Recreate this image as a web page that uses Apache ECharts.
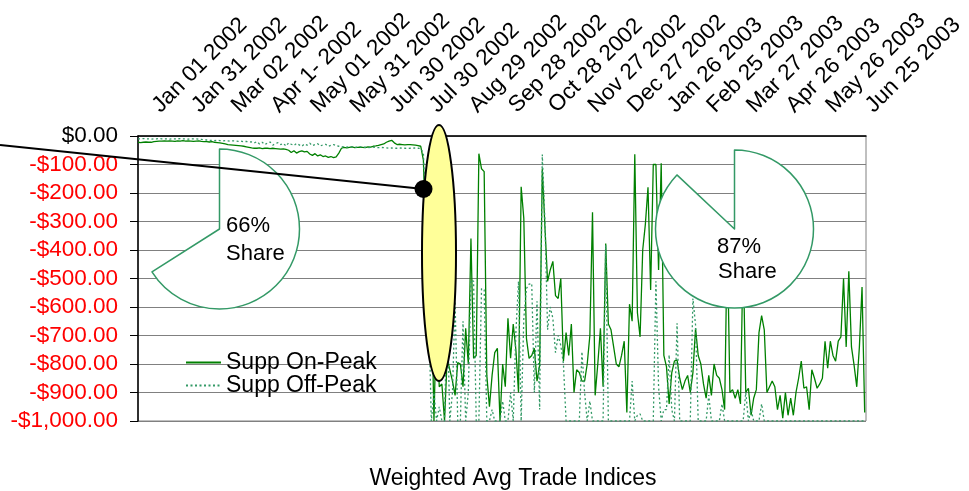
<!DOCTYPE html>
<html><head><meta charset="utf-8">
<script src="https://cdn.jsdelivr.net/npm/echarts@6/dist/echarts.min.js"></script>
<style>html,body{margin:0;padding:0;background:#fff}#c{width:969px;height:491px}</style>
</head><body><div id="c"></div>
<script>
// ---- data ----
const tickLabels = ['Jan 01 2002','Jan 31 2002','Mar 02 2002','Apr 1- 2002','May 01 2002','May 31 2002','Jun 30 2002','Jul 30 2002','Aug 29 2002','Sep 28 2002','Oct 28 2002','Nov 27 2002','Dec 27 2002','Jan 26 2003','Feb 25 2003','Mar 27 2003','Apr 26 2003','May 26 2003','Jun 25 2003'];
const DAY_STEP = 2;            // one value every 2 days, starting Jan 01 2002
const TICK_DAYS = 30;
const LAST_DAY = 551;
const seriesNames = ['Supp On-Peak', 'Supp Off-Peak'];

const onPeak = [
 -22,-23,-22,-21,-22,-22,-20,-19,-18,-18,
 -17,-18,-17,-18,-19,-17,-18,-16,-18,-17,
 -18,-19,-18,-17,-19,-20,-20,-21,-20,-22,
 -23,-24,-26,-28,-30,-31,-32,-33,-34,-35,
 -36,-38,-40,-42,-43,-43,-42,-44,-43,-43,
 -44,-43,-44,-45,-46,-45,-47,-50,-58,-52,
 -60,-55,-52,-56,-54,-63,-68,-62,-70,-66,
 -72,-70,-75,-72,-76,-73,-60,-43,-40,-42,
 -40,-38,-41,-40,-39,-40,-41,-38,-39,-36,
 -35,-33,-30,-28,-22,-18,-15,-24,-30,-29,
 -30,-31,-30,-30,-31,-32,-34,-36,-85,
 -400,-550,-500,-1000,-600,-880,-870,-1000,-780,-820,
 -860,-910,-795,-800,-880,-675,-800,-360,-780,-770,
 -62,-115,-125,-840,-950,-840,-760,-745,-1000,-800,
 -880,-640,-780,-660,-750,-900,-178,-289,-710,-780,
 -770,-745,-860,-804,-114,-320,-510,-470,-440,-560,
 -570,-500,-790,-690,-770,-660,-900,-820,-830,-860,
 -860,-800,-700,-268,-910,-800,-675,-880,-377,-660,
 -680,-740,-800,-810,-770,-720,-970,-590,-650,-64,
 -620,-705,-400,-310,-180,-540,-100,-100,-470,-96,
 -770,-810,-940,-830,-790,-785,-850,-890,-860,-840,
 -900,-830,-675,-770,-800,-870,-920,-840,-910,-800,
 -840,-850,-890,-960,-350,-900,-890,-920,-890,-940,
 -400,-900,-885,-980,-920,-890,-690,-630,-680,-900,
 -880,-860,-880,-960,-910,-990,-900,-980,-920,-980,
 -900,-850,-790,-885,-880,-960,-820,-850,-885,-870,
 -850,-720,-815,-720,-770,-790,-720,-705,-500,-740,
 -475,-740,-805,-880,-740,-530,-970
];

const offPeak = [
 -10,-10,-9,-10,-10,-11,-10,-10,-9,-10,
 -10,-10,-11,-10,-10,-10,-9,-10,-10,-11,
 -10,-10,-10,-11,-12,
 -13,-14,-15,-15,-16,-15,-16,-17,-16,-17,
 -18,-17,-18,-19,-18,-20,-19,-20,-21,
 -24,-20,-28,-22,-30,-25,-21,-32,-27,-23,
 -30,-26,-35,-24,-29,-33,-26,-31,-36,-28,
 -32,-25,-34,-30,-27,-35,-31,-29,-36,-33,
 -30,-34,
 -36,-38,-37,-39,-38,-38,-40,-39,-38,-40,
 -39,-41,-40,-39,-40,-41,-40,-41,
 -42,-43,-42,-43,-43,-42,-43,-43,-44,-43,
 -43,-42,-43,-44,-60,
 -300,-600,-1000,-900,-1000,-950,-1000,-1000,-590,-1000,
 -900,-580,-1000,-1000,-650,-1000,-900,-505,-510,-1000,
 -1000,-535,-540,-1000,-1000,-960,-1000,-1000,-1000,-930,
 -1000,-1000,-900,-1000,-690,-510,-1000,-640,-535,-520,
 -517,-900,-580,-960,-65,-300,-680,-600,-640,-760,
 -700,-735,-800,-1000,-1000,-1000,-1000,-1000,-1000,-757,
 -900,-1000,-930,-1000,-1000,-1000,-1000,-1000,-383,-1000,
 -1000,-1000,-1000,-1000,-1000,-1000,-1000,-1000,-860,-1000,
 -980,-975,-1000,-1000,-1000,-1000,-1000,-510,-880,-1000,
 -960,-960,-768,-960,-1000,-657,-1000,-1000,-1000,-1000,
 -1000,-570,-663,-1000,-1000,-1000,-1000,-909,-1000,-1000,
 -1000,-1000,-940,-1000,-1000,-1000,-1000,-1000,-1000,-1000,
 -1000,-900,-1000,-960,-1000,-1000,-1000,-940,-1000,-1000,
 -1000,-1000,-1000,-1000,-1000,-1000,-1000,-1000,-1000,-1000,
 -1000,-1000,-1000,-1000,-1000,-1000,-1000,-1000,-1000,-1000,
 -1000,-1000,-1000,-1000,-1000,-1000,-1000,-1000,-1000,-1000,
 -1000,-1000,-1000,-1000,-1000,-1000,-1000
];

const shares = [66, 87];
const shareLabels = ['66%', '87%'];
const shareWord = 'Share';
const axisTitle = 'Weighted Avg Trade Indices';

// ---- chart ----
const FONT = '"Liberation Sans", Arial, sans-serif';
const GREEN = '#008000';
const SEA = '#339966';

function toPairs(arr) { return arr.map((v, i) => [i * DAY_STEP, v]); }
function money(v) {
  if (v === 0) return '{b|$0.00}';
  const a = String(Math.abs(v)).replace(/\B(?=(\d{3})+(?!\d))/g, ',');
  return '{r|-$' + a + '.00}';
}
function pie(center, r, share) {
  return {
    type: 'pie', center: center, radius: r, startAngle: 90, clockwise: true,
    silent: true, animation: false, z: 5,
    label: { show: false }, labelLine: { show: false },
    emphasis: { disabled: true },
    data: [
      { value: share, itemStyle: { color: '#ffffff', borderColor: SEA, borderWidth: 1.5 } },
      { value: 100 - share, itemStyle: { color: 'rgba(0,0,0,0)', borderWidth: 0 } }
    ]
  };
}
function txt(id, x, y, text, size, align) {
  return { id: id, type: 'text', x: x, y: y, z: 50,
    style: { text: text, fontSize: size, fontFamily: FONT, fill: '#000', align: align || 'left', verticalAlign: 'middle' } };
}

const baseGraphic = [
  txt('p1a', 226, 226, shareLabels[0], 22),
  txt('p1b', 226, 254, shareWord, 22),
  txt('p2a', 717, 247, shareLabels[1], 22),
  txt('p2b', 718, 272, shareWord, 22),
  { id: 'ell', type: 'ellipse', z: 60, shape: { cx: 439, cy: 253, rx: 17, ry: 128 }, style: { fill: '#ffff99', stroke: '#000', lineWidth: 2 } },
  { id: 'ln', type: 'line', z: 61, shape: { x1: 0, y1: 145, x2: 423.5, y2: 189 }, style: { stroke: '#000', lineWidth: 2 } },
  { id: 'dot', type: 'circle', z: 62, shape: { cx: 423.5, cy: 189, r: 9 }, style: { fill: '#000' } },
  txt('title', 513, 479, axisTitle, 23, 'center')
];

const chart = echarts.init(document.getElementById('c'), null, { renderer: 'canvas' });
chart.setOption({
  animation: false,
  backgroundColor: '#ffffff',
  textStyle: { fontFamily: FONT },
  grid: { left: 138, right: 103, top: 136, bottom: 70, show: true, borderColor: '#808080', borderWidth: 1, backgroundColor: 'transparent' },
  xAxis: {
    type: 'value', position: 'top', min: 0, max: LAST_DAY, interval: TICK_DAYS,
    axisLine: { show: true, lineStyle: { color: '#000', width: 1.5 } },
    axisTick: { show: false }, splitLine: { show: false },
    axisLabel: { show: false }
  },
  yAxis: {
    type: 'value', min: -1000, max: 0, interval: 100,
    axisLine: { show: true, lineStyle: { color: '#000', width: 1.5 } },
    axisTick: { show: true, length: 8, lineStyle: { color: '#000', width: 1 } },
    splitLine: { show: true, lineStyle: { color: '#808080', width: 1 } },
    axisLabel: {
      margin: 20, formatter: money,
      rich: {
        b: { color: '#000', fontSize: 22.5, fontFamily: FONT },
        r: { color: '#ff0000', fontSize: 22.5, fontFamily: FONT }
      }
    }
  },
  legend: {
    data: seriesNames, orient: 'vertical', left: 185, top: 351, padding: 0,
    itemWidth: 35, itemHeight: 14, itemGap: 0, selectedMode: false,
    itemStyle: { opacity: 0 },
    textStyle: { fontSize: 23, fontFamily: FONT, color: '#000', lineHeight: 21 }
  },
  series: [
    { name: seriesNames[0], type: 'line', data: toPairs(onPeak), showSymbol: false, symbol: 'none',
      lineStyle: { color: GREEN, width: 1.3 }, itemStyle: { color: GREEN }, z: 3 },
    { name: seriesNames[1], type: 'line', data: toPairs(offPeak), showSymbol: false, symbol: 'none',
      lineStyle: { color: SEA, width: 1.3, type: [2, 2.5] }, itemStyle: { color: SEA }, z: 3 },
    pie([219.5, 229], 80, shares[0]),
    pie([734.5, 229], 79, shares[1])
  ],
  graphic: baseGraphic
});

// category tick labels placed through the x axis scale, rotated 45 degrees like the original
const labelGraphic = tickLabels.map((t, i) => {
  const px = chart.convertToPixel({ xAxisIndex: 0 }, i * TICK_DAYS);
  return { id: 'xl' + i, type: 'text', x: px + 18, y: 109, rotation: Math.PI / 4, z: 40,
    style: { text: t, fontSize: 22.5, fontFamily: FONT, fill: '#000', align: 'left', verticalAlign: 'middle' } };
});
chart.setOption({ graphic: baseGraphic.concat(labelGraphic) });
</script>
</body></html>
